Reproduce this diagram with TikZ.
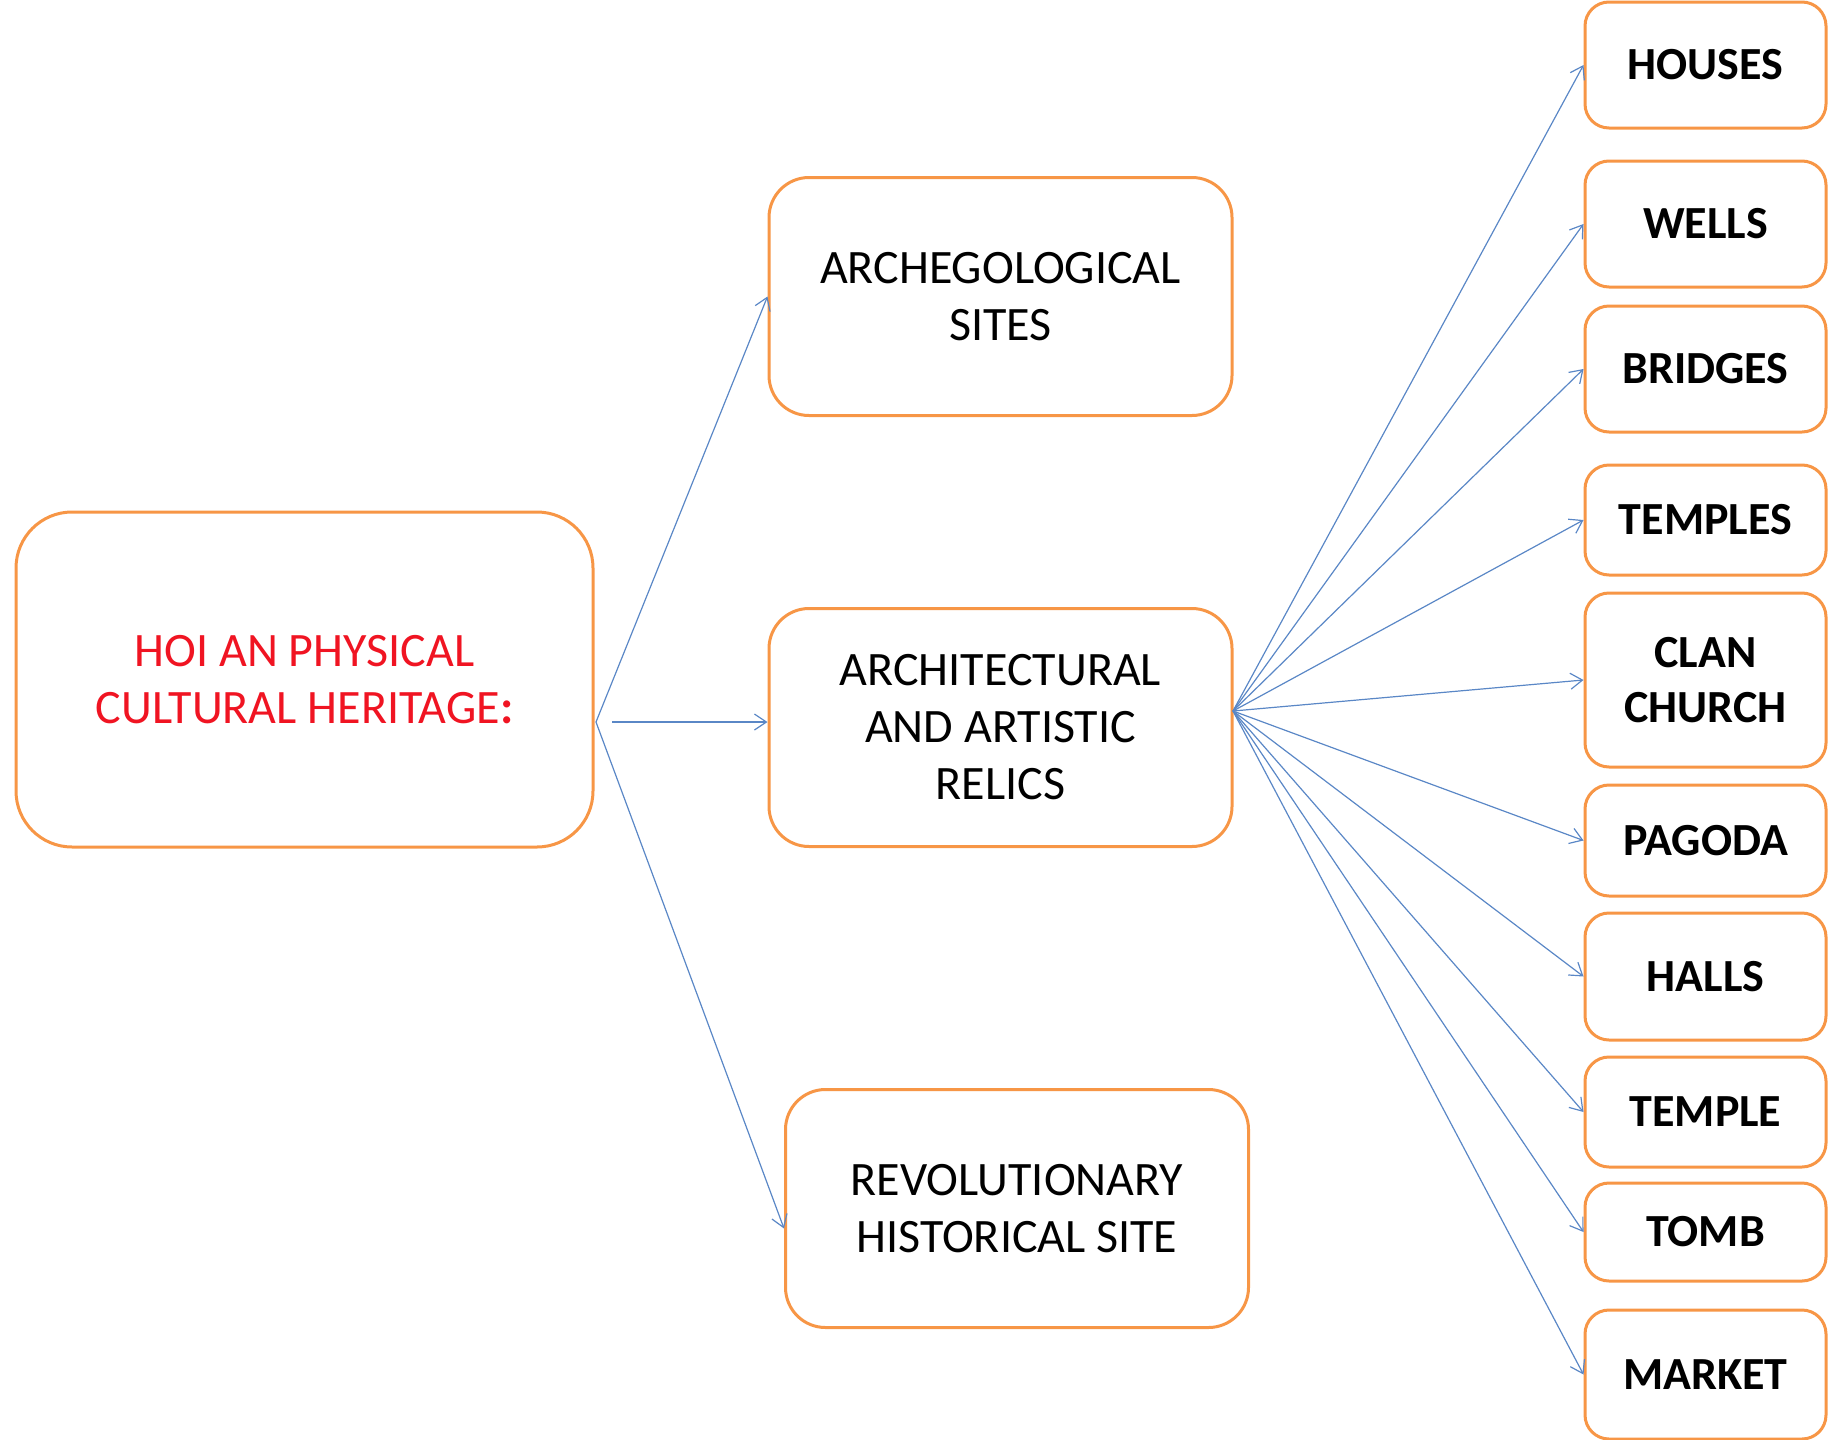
\documentclass[tikz,border=0pt]{standalone}
\usepackage{fontspec}
\setmainfont{Carlito}
\usetikzlibrary{arrows.meta,calc}
\definecolor{boxorange}{HTML}{F79646}
\definecolor{linkblue}{HTML}{5A87C6}
\definecolor{titlered}{HTML}{F01422}
\begin{document}
\begin{tikzpicture}[x=0.5pt,y=-0.5pt,
  box/.style={draw=boxorange,line width=1.5pt,fill=white,align=center,inner sep=0pt,font=\fontsize{24}{28.5}\selectfont},
  bigbox/.style={box,rounded corners=28pt},
  midbox/.style={box,rounded corners=20pt,minimum width=231.5pt,minimum height=119pt},
  leaf/.style={box,rounded corners=12pt,minimum width=120.5pt,font=\fontsize{23}{27.5}\selectfont\bfseries},
  link/.style={draw=linkblue,line width=0.6pt,-{Straight Barb[length=6pt,width=8pt]}}]
\useasboundingbox (0,0) rectangle (1831,1440);
\node[bigbox,minimum width=288.5pt,minimum height=167.5pt,text=titlered] (main) at (304.5,679.5) {HOI AN PHYSICAL\\CULTURAL HERITAGE\textbf{:}};
\node[midbox] (arche) at (1000.5,296.5) {ARCHEGOLOGICAL\\SITES};
\node[midbox] (archi) at (1000.5,727.5) {ARCHITECTURAL\\AND ARTISTIC\\RELICS};
\node[midbox] (revo) at (1017,1208.5) {REVOLUTIONARY\\HISTORICAL SITE};
\node[leaf,minimum height=63pt] (houses) at (1705.5,65) {HOUSES};
\node[leaf,minimum height=63pt] (wells) at (1705.5,224) {WELLS};
\node[leaf,minimum height=63pt] (bridges) at (1705.5,369) {BRIDGES};
\node[leaf,minimum height=55pt] (temples) at (1705.5,520) {TEMPLES};
\node[leaf,minimum height=87pt] (clan) at (1705.5,680) {CLAN\\CHURCH};
\node[leaf,minimum height=55.5pt] (pagoda) at (1705.5,840.5) {PAGODA};
\node[leaf,minimum height=63.5pt] (halls) at (1705.5,976.5) {HALLS};
\node[leaf,minimum height=55pt] (temple) at (1705.5,1112) {TEMPLE};
\node[leaf,minimum height=49pt] (tomb) at (1705.5,1232) {TOMB};
\node[leaf,minimum height=64.5pt] (market) at (1705.5,1374.5) {MARKET};
\coordinate (mainfan) at (596,722);
\coordinate (mainstraight) at (612,722);
\coordinate (archfan) at (1233,711);
\draw[link] (mainfan) -- (arche.west);
\draw[link] (mainstraight) -- (mainstraight -| archi.west);
\draw[link] (mainfan) -- ([yshift=-10pt]revo.west);
\foreach \t in {houses,wells,bridges,temples,clan,pagoda,halls,temple,tomb,market}
  \draw[link] (archfan) -- (\t.west);
\end{tikzpicture}
\end{document}
